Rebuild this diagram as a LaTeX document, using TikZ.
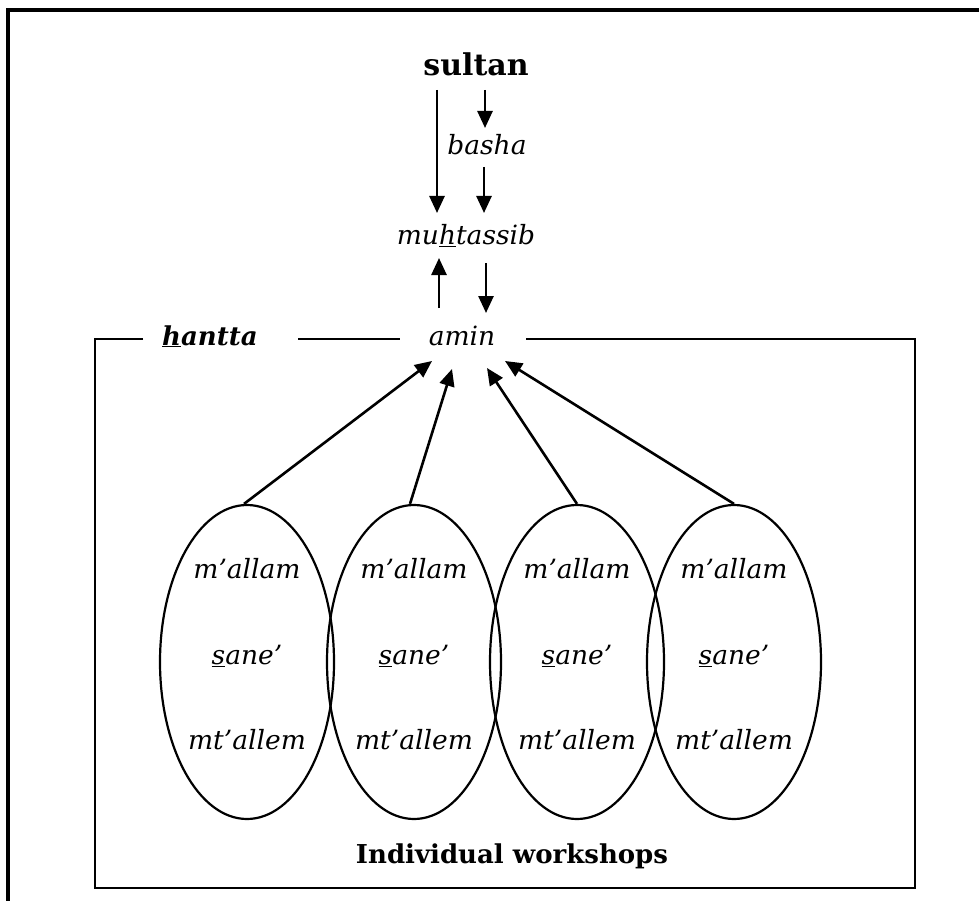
\documentclass[tikz,border=0pt]{standalone}
\usepackage{fontspec}
\setmainfont{DejaVu Serif}
\usetikzlibrary{arrows.meta,shapes.geometric}
\begin{document}
\begin{tikzpicture}[x=1pt,y=-1pt,
  arr/.style={line width=2.6pt,-{Triangle[length=17pt,width=15pt]}},
  ws/.style={ellipse,draw,line width=2.2pt,minimum width=174,minimum height=314,inner sep=0pt},
  itl/.style={anchor=base,font=\fontsize{26.5}{31}\selectfont\itshape,inner sep=0pt},
  box/.style={line width=2.4pt}]
\useasboundingbox (0,0) rectangle (979,901);
% outer frame
\draw[line width=3.4pt] (8,901) -- (8,10) -- (979,10);
% labels
\node[anchor=base,font=\fontsize{30}{35}\selectfont\bfseries,inner sep=0pt] (sultan) at (476,76) {sultan};
\node[itl] (basha) at (487,155) {basha};
\node[itl] (muh) at (466,245) {mu\underline{h}tassib};
\node[itl] (amin) at (462,345) {amin};
\node[itl,font=\fontsize{26}{31}\selectfont\bfseries\itshape] (hantta) at (210,345) {\underline{h}antta};
% inner box
\draw[box] (143,339) -- (95,339) -- (95,888) -- (915,888) -- (915,339) -- (526,339);
\draw[box] (298,339) -- (400,339);
\node[anchor=base,font=\fontsize{26}{31}\selectfont\bfseries,inner sep=0pt] (iw) at (512,863) {Individual workshops};
% ellipses
\foreach \i/\x in {1/247,2/414,3/577,4/734}{
  \node[ws] (e\i) at (\x,662) {};
  \node[itl] (m\i) at (\x,578) {m’allam};
  \node[itl] (s\i) at (\x,664) {\underline{s}ane’};
  \node[itl] (t\i) at (\x,749) {mt’allem};
}
% arrow end points
\coordinate (s1) at (437,90);  \coordinate (t1) at (437,213);
\coordinate (s2) at (485,90);  \coordinate (t2) at (485,128);
\coordinate (s3) at (484,167); \coordinate (t3) at (484,213);
\coordinate (s4) at (439,308); \coordinate (t4) at (439,258);
\coordinate (s5) at (486,263); \coordinate (t5) at (486,313);
\draw[arr] (s1) -- (t1);
\draw[arr] (s2) -- (t2);
\draw[arr] (s3) -- (t3);
\draw[arr] (s4) -- (t4);
\draw[arr] (s5) -- (t5);
\coordinate (a1) at (432,361);
\coordinate (a2) at (452,369);
\coordinate (a3) at (487,368);
\coordinate (a4) at (505,361);
\draw[arr] ([xshift=-3pt]e1.north) -- (a1);
\draw[arr] ([xshift=-4pt]e2.north) -- (a2);
\draw[arr] (e3.north) -- (a3);
\draw[arr] (e4.north) -- (a4);
\end{tikzpicture}
\end{document}
